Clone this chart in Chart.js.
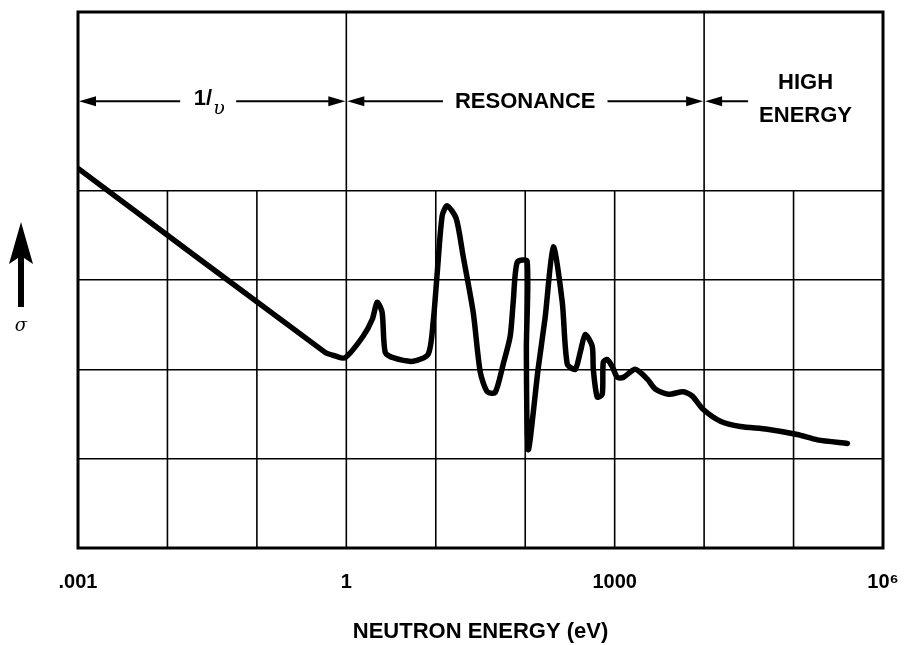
<!DOCTYPE html>
<html>

<head>
    <meta charset="utf-8">
    <title>Neutron cross section</title>
    <style>
        html, body { margin: 0; padding: 0; background: #fff; }
        .wrap { width: 904px; height: 645px; }
    </style>
</head>

<body>
    <div class="wrap">
        <canvas id="chart" width="904" height="645"></canvas>
    </div>

    <script src="https://cdn.jsdelivr.net/npm/chart.js"></script>

    <script>
        // neutron energy (eV) and cross section (arbitrary units, 0..6)
        const energy = [0.001, 0.579, 0.75, 0.97, 1.54, 1.95, 2.21, 2.51, 2.72, 3.33,
            5.58, 8.22, 9.35, 10.4, 11.8, 13.4, 16.9, 20.2, 26.2, 31.4,
            37.6, 46.1, 56.8, 67.9, 73.5, 81.5, 105, 103, 108, 140,
            167, 206, 259, 295, 362, 412, 469, 561, 577, 638,
            726, 746, 826, 940, 1070, 1250, 1700, 2320, 2840, 3980,
            5850, 7380, 9800, 15200, 25400, 50900, 110000, 185000, 400000];
        const sigma = [4.25, 2.19, 2.15, 2.13, 2.37, 2.56, 2.75, 2.64, 2.19, 2.13,
            2.09, 2.17, 2.53, 3.09, 3.72, 3.83, 3.69, 3.27, 2.64, 1.97,
            1.75, 1.74, 2.06, 2.37, 2.76, 3.20, 3.21, 2.22, 1.10, 2.02,
            2.58, 3.37, 2.76, 2.06, 2.00, 2.19, 2.39, 2.26, 2.00, 1.69,
            1.72, 2.08, 2.11, 2.03, 1.91, 1.91, 2.00, 1.89, 1.78, 1.72,
            1.75, 1.70, 1.55, 1.42, 1.36, 1.33, 1.27, 1.21, 1.17];

        // decade grid and the labels shown under it
        const xTicks = [1e-3, 1e-2, 1e-1, 1, 10, 100, 1e3, 1e4, 1e5, 1e6];
        const tickLabels = ['.001', '', '', '1', '', '', '1000', '', '', '10\u2076'];

        // region boundaries in the header row
        const regionEdges = [1e-3, 1, 1e4, 1e6];
        const regionNames = ['1/', 'RESONANCE', 'HIGH|ENERGY'];

        const points = energy.map((e, i) => ({ x: e, y: sigma[i] }));

        function arrowHead(ctx, x, y, dir) {
            ctx.beginPath();
            ctx.moveTo(x, y);
            ctx.lineTo(x - dir * 17, y - 5);
            ctx.lineTo(x - dir * 17, y + 5);
            ctx.closePath();
            ctx.fill();
        }

        function hLine(ctx, x1, x2, y) {
            ctx.beginPath();
            ctx.moveTo(x1, y);
            ctx.lineTo(x2, y);
            ctx.stroke();
        }

        const framePlugin = {
            id: 'frame',
            beforeDatasetsDraw(chart) {
                const ctx = chart.ctx;
                const xs = chart.scales.x, ys = chart.scales.y;
                const a = chart.chartArea;
                ctx.save();
                ctx.strokeStyle = '#000';
                ctx.lineWidth = 1.6;
                // vertical grid: full height only at region edges
                xTicks.forEach(v => {
                    const px = xs.getPixelForValue(v);
                    const full = regionEdges.includes(v);
                    ctx.beginPath();
                    ctx.moveTo(px, full ? a.top : ys.getPixelForValue(4));
                    ctx.lineTo(px, a.bottom);
                    ctx.stroke();
                });
                // frame
                ctx.lineWidth = 3;
                ctx.strokeRect(a.left, a.top, a.right - a.left, a.bottom - a.top);

                // header arrows and labels
                const hy = ys.getPixelForValue(5);
                const e = regionEdges.map(v => xs.getPixelForValue(v));
                ctx.fillStyle = '#000';
                ctx.lineWidth = 2;
                ctx.textBaseline = 'middle';

                // 1/v
                let c = (e[0] + e[1]) / 2 - 6;
                hLine(ctx, e[0] + 8, c - 26, hy);
                hLine(ctx, c + 30, e[1] - 8, hy);
                arrowHead(ctx, e[0] + 1, hy, -1);
                arrowHead(ctx, e[1] - 1, hy, 1);
                ctx.font = 'bold 22px "Liberation Sans", Arial, sans-serif';
                ctx.textAlign = 'right';
                ctx.fillText(regionNames[0], c + 6, hy - 2);
                ctx.textAlign = 'left';
                ctx.font = 'italic 19px "DejaVu Serif", serif';
                ctx.fillText('\u03c5', c + 7, hy + 8);

                // resonance
                c = (e[1] + e[2]) / 2;
                ctx.font = 'bold 22px "Liberation Sans", Arial, sans-serif';
                ctx.textAlign = 'center';
                const w = ctx.measureText(regionNames[1]).width;
                ctx.fillText(regionNames[1], c, hy + 1);
                hLine(ctx, e[1] + 8, c - w / 2 - 12, hy);
                hLine(ctx, c + w / 2 + 12, e[2] - 8, hy);
                arrowHead(ctx, e[1] + 1, hy, -1);
                arrowHead(ctx, e[2] - 1, hy, 1);

                // high energy
                hLine(ctx, e[2] + 8, e[2] + 44, hy);
                arrowHead(ctx, e[2] + 1, hy, -1);
                const hi = regionNames[2].split('|');
                c = (e[2] + e[3]) / 2 + 12;
                ctx.fillText(hi[0], c, hy - 18);
                ctx.fillText(hi[1], c, hy + 15);

                // sigma arrow on the left
                ctx.beginPath();
                ctx.moveTo(21, 222);
                ctx.lineTo(33, 264);
                ctx.lineTo(24, 258);
                ctx.lineTo(24, 307);
                ctx.lineTo(18, 307);
                ctx.lineTo(18, 258);
                ctx.lineTo(9, 264);
                ctx.closePath();
                ctx.fill();
                ctx.font = 'italic 18px "DejaVu Serif", serif';
                ctx.fillText('\u03c3', 21, 326);
                ctx.restore();
            }
        };

        new Chart(document.getElementById('chart'), {
            type: 'scatter',
            data: {
                datasets: [{
                    label: 'cross section',
                    data: points,
                    showLine: true,
                    borderColor: '#000',
                    borderWidth: 5.5,
                    borderCapStyle: 'round',
                    borderJoinStyle: 'round',
                    tension: 0.25,
                    pointRadius: 0,
                    pointHoverRadius: 0
                }]
            },
            options: {
                responsive: false,
                animation: false,
                layout: { padding: { top: 12, right: 21, bottom: 0, left: 0 } },
                plugins: {
                    legend: { display: false },
                    tooltip: { enabled: false }
                },
                scales: {
                    x: {
                        type: 'logarithmic',
                        min: 1e-3,
                        max: 1e6,
                        afterBuildTicks: s => { s.ticks = xTicks.map(v => ({ value: v })); },
                        afterFit: s => { s.height = 97; s.paddingLeft = 0; s.paddingRight = 0; },
                        grid: { display: false },
                        border: { display: false },
                        ticks: {
                            autoSkip: false,
                            maxRotation: 0,
                            padding: 14,
                            color: '#000',
                            font: { family: '"Liberation Sans", Arial, sans-serif', size: 20, weight: 'bold' },
                            callback: (v, i) => tickLabels[i]
                        },
                        title: {
                            display: true,
                            text: 'NEUTRON ENERGY (eV)',
                            color: '#000',
                            font: { family: '"Liberation Sans", Arial, sans-serif', size: 22, weight: 'bold' },
                            padding: { top: 0, bottom: 0 }
                        }
                    },
                    y: {
                        min: 0,
                        max: 6,
                        afterFit: s => { s.width = 78; },
                        border: { display: false },
                        ticks: { display: false, stepSize: 1 },
                        grid: {
                            drawTicks: false,
                            lineWidth: 1.6,
                            color: c => (c.tick.value >= 1 && c.tick.value <= 4) ? '#000' : 'rgba(0,0,0,0)'
                        }
                    }
                }
            },
            plugins: [framePlugin]
        });
    </script>
</body>

</html>
